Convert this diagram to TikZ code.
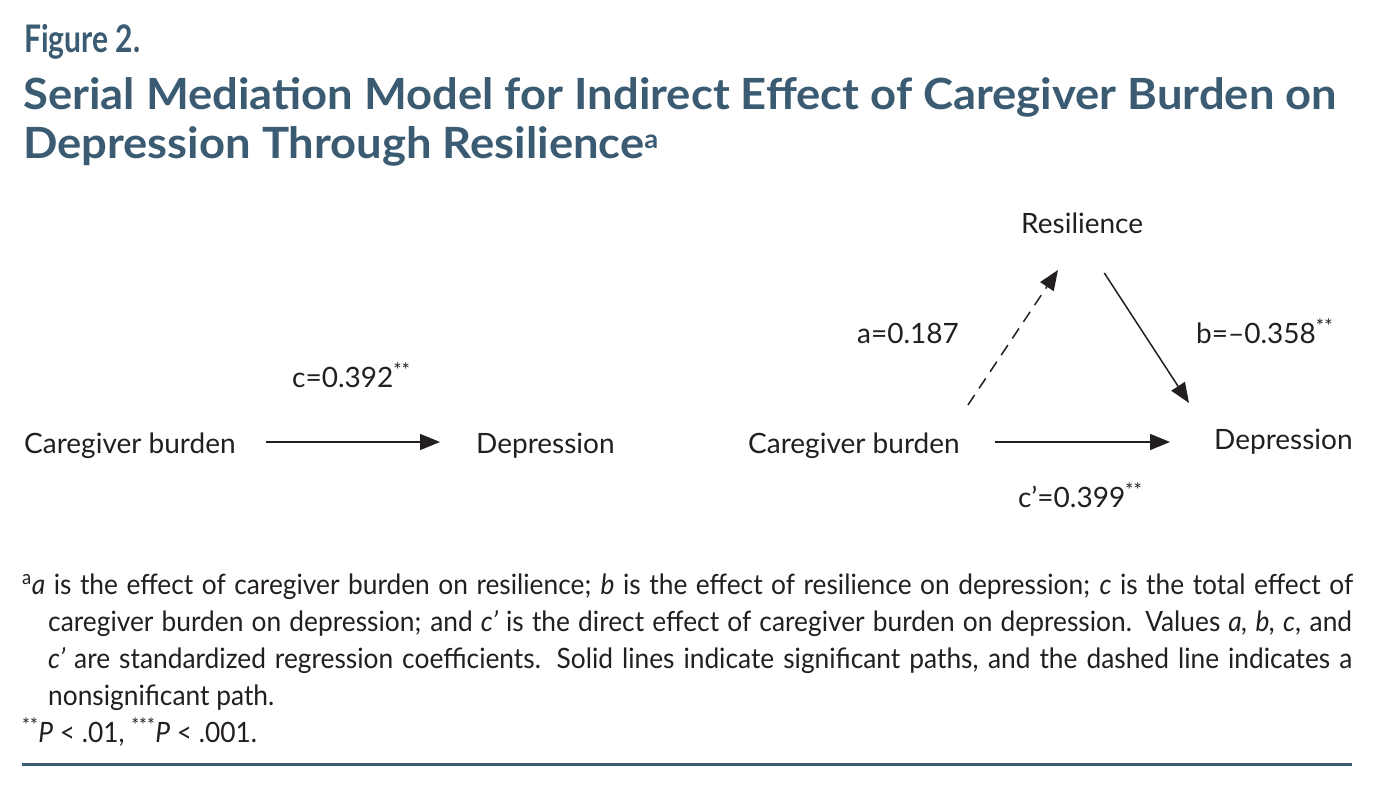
\documentclass[tikz,border=0pt]{standalone}
\usepackage{fontspec}
\setmainfont{Lato}
\newfontfamily\figfont{Lato}[FakeStretch=0.79]
\newfontfamily\ttlfont{Lato}[FakeStretch=1.055]
\newfontfamily\footfont{Lato}[FakeStretch=0.94]
\usetikzlibrary{arrows.meta}
\definecolor{tblue}{HTML}{3A5B72}
\definecolor{ink}{HTML}{231F20}
\tikzset{
  lbl/.style={anchor=base west, inner sep=0pt, text=ink, font=\fontsize{28}{32}\selectfont},
  foot/.style={anchor=base west, inner sep=0pt, text=ink, font=\footfont\fontsize{28}{34}\selectfont},
  ttl/.style={anchor=base west, inner sep=0pt, text=tblue, font=\ttlfont\fontsize{43}{48}\selectfont\bfseries},
  arr/.style={line width=1.5pt, draw=ink, -{Triangle[length=20pt,width=16pt]}},
  darr/.style={arr, dash pattern=on 12pt off 8pt}
}
\begin{document}
\begin{tikzpicture}[x=1pt,y=-1pt]
\useasboundingbox[fill=white] (0,0) rectangle (1378,789);
% title
\node[anchor=base west, inner sep=0pt, text=tblue, font=\figfont\fontsize{38}{44}\selectfont\bfseries] (fig) at (24,53) {Figure 2.};
\node[ttl] (t1) at (23,110) {Serial Mediation Model for Indirect Effect of Caregiver Burden on};
\node[ttl] (t2) at (23,158) {Depression Through Resilience\textsuperscript{\fontsize{26}{30}\selectfont a}};
% left model
\node[lbl] (cb1) at (24,453) {Caregiver burden};
\node[lbl] (dep1) at (476,453) {Depression};
\node[lbl] (c) at (292,387) {c=0.392\textsuperscript{**}};
\draw[arr] ([shift={(30pt,11pt)}]cb1.base east) -- ([shift={(-36pt,11pt)}]dep1.base west);
% right model
\node[lbl] (res) at (1021,233) {Resilience};
\node[lbl] (cb2) at (748,453) {Caregiver burden};
\node[lbl] (dep2) at (1214,449) {Depression};
\node[lbl] (a) at (857,343) {a=0.187};
\node[lbl] (b) at (1196,343) {b=–0.358\textsuperscript{**}};
\node[lbl] (cp) at (1018,507) {c’=0.399\textsuperscript{**}};
\draw[darr] ([shift={(8pt,48pt)}]cb2.base east) -- ([shift={(37pt,-37pt)}]res.base west);
\draw[arr] ([shift={(-39pt,-40pt)}]res.base east) -- ([shift={(-25pt,46pt)}]dep2.base west);
\draw[arr] ([shift={(35pt,11pt)}]cb2.base east) -- ([shift={(-44pt,7pt)}]dep2.base west);
% footnote
\node[foot] (f1) at (22,594) {\makebox[1331pt][s]{\textsuperscript{a}\textit{a} is the effect of caregiver burden on resilience; \textit{b} is the effect of resilience on depression; \textit{c} is the total effect of}};
\node[foot] (f2) at (48,631) {\makebox[1304pt][s]{caregiver burden on depression; and \textit{c’} is the direct effect of caregiver burden on depression. Values \textit{a, b, c}, and}};
\node[foot] (f3) at (48,668) {\makebox[1304pt][s]{\textit{c’} are standardized regression coefficients. Solid lines indicate significant paths, and the dashed line indicates a}};
\node[foot] (f4) at (48,705) {nonsignificant path.};
\node[foot] (f5) at (22,742) {\textsuperscript{**}\textit{P} < .01, \textsuperscript{***}\textit{P} < .001.};
\coordinate (r1) at (22,764);
\coordinate (r2) at (1352,764);
\draw[tblue, line width=3pt] (r1) -- (r2);
\end{tikzpicture}
\end{document}
